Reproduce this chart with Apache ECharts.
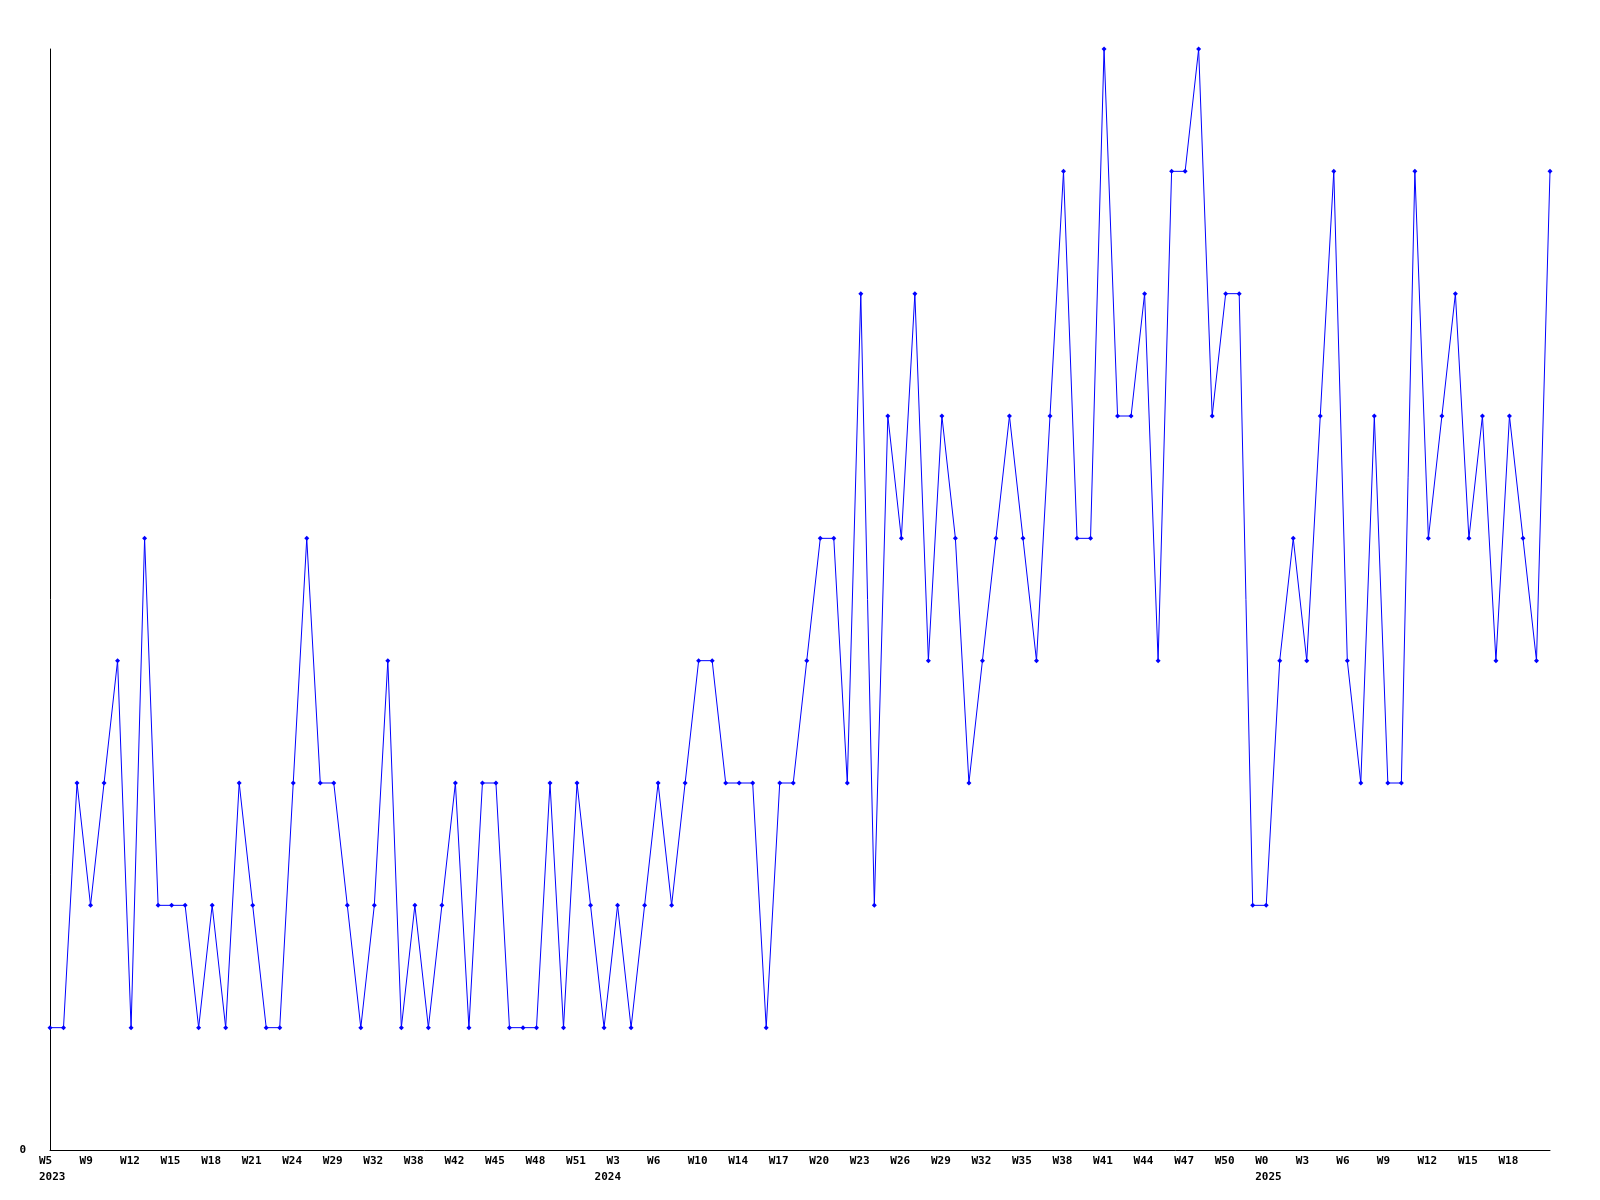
<!DOCTYPE html>
<html>
<head>
<meta charset="utf-8">
<script src="https://cdn.jsdelivr.net/npm/echarts@6/dist/echarts.min.js"></script>
<style>html,body{margin:0;padding:0;background:#fff}#c{width:1600px;height:1200px}</style>
</head>
<body>
<div id="c"></div>
<script>
const categories = [
 'W5','W6','W8','W9','W10','W11','W12','W13','W14','W15','W16','W17','W18','W19','W20','W21','W22','W23','W24','W26',
 'W28','W29','W30','W31','W32','W34','W36','W38','W39','W41','W42','W43','W44','W45','W46','W47','W48','W49','W50','W51',
 'W52','W1','W3','W4','W5','W6','W8','W9','W10','W12','W13','W14','W15','W16','W17','W18','W19','W20','W21','W22',
 'W23','W24','W25','W26','W27','W28','W29','W30','W31','W32','W33','W34','W35','W36','W37','W38','W39','W40','W41','W42',
 'W43','W44','W45','W46','W47','W48','W49','W50','W51','W52','W0','W1','W2','W3','W4','W5','W6','W7','W8','W9',
 'W10','W11','W12','W13','W14','W15','W16','W17','W18','W19','W20','W21'
];
const values = [
 1,1,3,2,3,4,1,5,2,2,2,1,2,1,3,2,1,1,3,5,
 3,3,2,1,2,4,1,2,1,2,3,1,3,3,1,1,1,3,1,3,
 2,1,2,1,2,3,2,3,4,4,3,3,3,1,3,3,4,5,5,3,
 7,2,6,5,7,4,6,5,3,4,5,6,5,4,6,8,5,5,9,6,
 6,7,4,8,8,9,6,7,7,2,2,4,5,4,6,8,4,3,6,3,
 3,8,5,6,7,5,6,4,6,5,4,8
];
const yearIndex = [0, 42, 90];
const yearText = ['2023', '2024', '2025'];
const yTicks = [0];

const chart = echarts.init(document.getElementById('c'));
const font = 'DejaVu Sans Mono';
chart.setOption({
  animation: false,
  backgroundColor: '#ffffff',
  grid: { left: 50, right: 50, top: 49, bottom: 50, containLabel: false },
  xAxis: {
    type: 'category',
    boundaryGap: false,
    data: categories,
    axisLine: { show: true, lineStyle: { color: '#000', width: 1 } },
    axisTick: { show: false },
    splitLine: { show: false },
    axisLabel: {
      interval: function (i) { return i % 3 === 0 && i <= 108; },
      align: 'left',
      padding: [0, 0, 0, -11],
      margin: 3,
      color: '#000',
      fontFamily: font,
      fontWeight: 'bold',
      fontSize: 11,
      lineHeight: 16,
      formatter: function (v, i) {
        const k = yearIndex.indexOf(i);
        if (k < 0) return v;
        return v + '\n' + (k === 1 ? '{s|' + yearText[k] + '}' : yearText[k]);
      },
      rich: {
        s: { fontFamily: font, fontWeight: 'bold', fontSize: 11, color: '#000', lineHeight: 16, padding: [0, 0, 0, -12] }
      }
    }
  },
  yAxis: {
    type: 'value',
    min: 0,
    max: 9,
    interval: 9,
    axisLine: { show: true, lineStyle: { color: '#000', width: 1 } },
    axisTick: { show: false },
    splitLine: { show: false },
    axisLabel: {
      margin: 24,
      color: '#000',
      fontFamily: font,
      fontWeight: 'bold',
      fontSize: 11,
      formatter: function (v) { return yTicks.indexOf(v) >= 0 ? String(v) : ''; }
    }
  },
  series: [{
    type: 'line',
    data: values,
    showAllSymbol: true,
    symbol: 'diamond',
    symbolSize: 5,
    itemStyle: { color: '#0000ff' },
    lineStyle: { color: '#0000ff', width: 1 },
    emphasis: { disabled: true }
  }]
});
</script>
</body>
</html>
